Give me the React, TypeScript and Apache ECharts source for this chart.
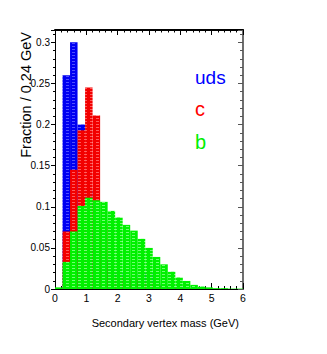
import React, { useEffect, useRef } from "react";
import * as echarts from "echarts";

const BIN_WIDTH = 0.24;
const X_TICKS = [0, 1, 2, 3, 4, 5, 6];
const Y_TICKS = [0, 0.05, 0.1, 0.15, 0.2, 0.25, 0.3];
const LEGEND = ["uds", "c", "b"];

const udsValues = [0, 0.26, 0.30, 0.20, 0.12, 0.06, 0.035, 0.025, 0.02, 0.012, 0.01, 0.02, 0.02, 0.006, 0.004, 0.003, 0.002, 0.001, 0.001, 0, 0, 0, 0, 0, 0];
const charmValues = [0, 0.07, 0.145, 0.193, 0.245, 0.211, 0.08, 0.03, 0.015, 0.015, 0.013, 0.01, 0.008, 0.005, 0.003, 0.002, 0.001, 0.001, 0.0005, 0, 0, 0, 0, 0, 0];
const bottomValues = [0.002, 0.033, 0.07, 0.101, 0.111, 0.108, 0.106, 0.095, 0.087, 0.078, 0.071, 0.061, 0.05, 0.039, 0.03, 0.021, 0.014, 0.0098, 0.005, 0.003, 0.002, 0.001, 0.001, 0.0005, 0.0005];

function makePattern(base: string, light: string) {
  const c = document.createElement("canvas");
  c.width = 6;
  c.height = 3;
  const ctx = c.getContext("2d")!;
  ctx.fillStyle = base;
  ctx.fillRect(0, 0, 6, 3);
  ctx.fillStyle = light;
  ctx.fillRect(0, 1, 3, 1);
  return { image: c, repeat: "repeat" } as any;
}

function toBins(values: number[]) {
  return values.map((v, i) => [i * BIN_WIDTH, (i + 1) * BIN_WIDTH, v]);
}

export default function App() {
  const ref = useRef<HTMLDivElement>(null);
  useEffect(() => {
    const chart = echarts.init(ref.current!, undefined, { renderer: "svg" });
    const font = "'Liberation Sans', Arial, sans-serif";
    const narrow = "'Liberation Sans Narrow', 'Liberation Sans', sans-serif";
    const histSeries = (name: string, values: number[], fill: any, z: number) => ({
      type: "custom",
      name,
      xAxisIndex: 0,
      yAxisIndex: 0,
      z,
      data: toBins(values),
      encode: { x: [0, 1], y: 2 },
      renderItem: (params: any, api: any) => {
        const x0 = api.value(0);
        const x1 = api.value(1);
        const v = api.value(2);
        const p0 = api.coord([x0, v]);
        const p1 = api.coord([x1, 0]);
        return {
          type: "rect",
          shape: { x: p0[0], y: p0[1], width: p1[0] - p0[0], height: p1[1] - p0[1] },
          style: { fill },
        };
      },
    });
    chart.setOption({
      animation: false,
      grid: { left: 55, right: 84, top: 30, bottom: 65 },
      xAxis: [
        {
          type: "value",
          position: "bottom",
          min: 0,
          max: 6,
          interval: 1,
          axisLine: { show: true, lineStyle: { color: "#000", width: 1 } },
          axisTick: { show: true, inside: true, length: 6, lineStyle: { color: "#000" } },
          minorTick: { show: true, splitNumber: 5, length: 3, lineStyle: { color: "#000" } },
          splitLine: { show: false },
          axisLabel: {
            color: "#000",
            fontSize: 10.5,
            fontFamily: narrow,
            margin: 3,
            formatter: (v: number) => (X_TICKS.includes(v) ? String(v) : ""),
          },
        },
        {
          type: "value",
          position: "top",
          min: 0,
          max: 6,
          interval: 1,
          axisLine: { show: true, onZero: false, lineStyle: { color: "#000", width: 2 } },
          axisTick: { show: true, inside: true, length: 5, lineStyle: { color: "#000" } },
          minorTick: { show: true, splitNumber: 5, length: 2.5, lineStyle: { color: "#000" } },
          splitLine: { show: false },
          axisLabel: { show: false },
        },
      ],
      yAxis: [
        {
          type: "value",
          position: "left",
          min: 0,
          max: 0.315,
          interval: 0.05,
          axisLine: { show: true, lineStyle: { color: "#000", width: 1 } },
          axisTick: { show: true, inside: false, length: 4, lineStyle: { color: "#000" } },
          minorTick: { show: true, splitNumber: 5, length: 2, lineStyle: { color: "#000" } },
          splitLine: { show: false },
          axisLabel: {
            color: "#000",
            fontSize: 10,
            fontFamily: narrow,
            margin: 5,
            showMaxLabel: false,
            formatter: (v: number) => {
              const t = Y_TICKS.find((y) => Math.abs(y - v) < 1e-9);
              return t === undefined ? "" : String(t);
            },
          },
        },
        {
          type: "value",
          position: "right",
          min: 0,
          max: 0.315,
          interval: 0.05,
          axisLine: { show: true, onZero: false, lineStyle: { color: "#6e6e6e", width: 2 } },
          axisTick: { show: true, inside: true, length: 5, lineStyle: { color: "#555" } },
          minorTick: { show: true, splitNumber: 5, length: 3, lineStyle: { color: "#555" } },
          splitLine: { show: false },
          axisLabel: { show: false },
        },
      ],
      series: [
        histSeries("uds", udsValues, makePattern("#0000f2", "#5050ff"), 2),
        histSeries("c", charmValues, makePattern("#f20000", "#ff5a5a"), 3),
        histSeries("b", bottomValues, makePattern("#00f000", "#70ff70"), 4),
      ],
      graphic: [
        {
          type: "text",
          x: 26,
          y: 32,
          rotation: Math.PI / 2,
          style: {
            text: "Fraction / 0.24 GeV",
            fontSize: 14.5,
            fontFamily: font,
            fill: "#000",
            align: "right",
            verticalAlign: "middle",
          },
        },
        {
          type: "text",
          x: 239,
          y: 323,
          style: {
            text: "Secondary vertex mass (GeV)",
            fontSize: 11,
            fontFamily: font,
            fill: "#000",
            align: "right",
            verticalAlign: "middle",
          },
        },
        {
          type: "text",
          x: 195,
          y: 77,
          style: { text: LEGEND[0], fontSize: 19, fontFamily: font, fill: "#0000ff", align: "left", verticalAlign: "middle" },
        },
        {
          type: "text",
          x: 195,
          y: 109,
          style: { text: LEGEND[1], fontSize: 20, fontFamily: font, fill: "#ff0000", align: "left", verticalAlign: "middle" },
        },
        {
          type: "text",
          x: 195,
          y: 142,
          style: { text: LEGEND[2], fontSize: 20, fontFamily: font, fill: "#00ee00", align: "left", verticalAlign: "middle" },
        },
      ],
    });
    return () => chart.dispose();
  }, []);
  return <div ref={ref} style={{ width: 327, height: 354, position: "absolute", left: 0, top: 0 }} />;
}
